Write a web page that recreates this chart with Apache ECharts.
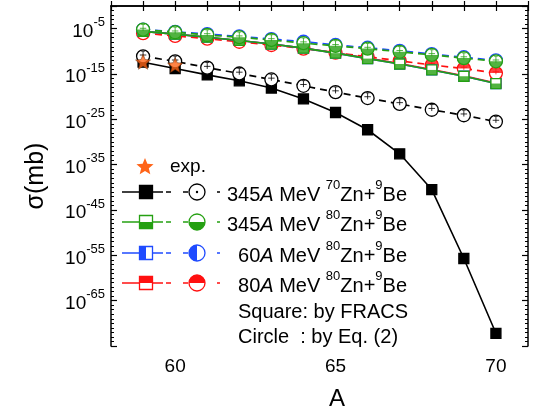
<!DOCTYPE html>
<html>
<head>
<meta charset="utf-8">
<script src="https://cdn.jsdelivr.net/npm/echarts@6/dist/echarts.min.js"></script>
<style>html,body{margin:0;padding:0;background:#fff}#c{width:539px;height:416px}</style>
</head>
<body>
<div id="c"></div>
<script>
// ---- data (sigma in mb) ----
const massNumbers = [59, 60, 61, 62, 63, 64, 65, 66, 67, 68, 69, 70];
const expMass = [59, 60];
const expSigma = [5.0e-13, 1.0e-13];
// 345A MeV 70Zn+9Be
const fracs70Zn345 = [4.0e-13, 1.6e-14, 6.3e-16, 3.2e-17, 7.9e-19, 3.2e-21, 3.2e-24, 5.0e-28, 2.5e-33, 3.2e-41, 2.0e-56, 6.3e-73];
const eq70Zn345 = [7.9e-12, 6.3e-13, 2.5e-14, 1.3e-15, 6.3e-17, 2.5e-18, 1.0e-19, 5.0e-21, 2.5e-22, 1.3e-23, 7.9e-25, 3.2e-26];
// 345A MeV 80Zn+9Be
const fracs80Zn345 = [2.5e-6, 6.3e-7, 1.3e-7, 2.5e-8, 4.0e-9, 5.0e-10, 4.0e-11, 2.5e-12, 1.6e-13, 7.9e-15, 3.2e-16, 7.9e-18];
const eq80Zn345 = [6.3e-6, 1.6e-6, 4.0e-7, 1.3e-7, 3.2e-8, 6.3e-9, 1.6e-9, 4.0e-10, 7.9e-11, 1.6e-11, 3.2e-12, 6.3e-13];
// 60A MeV 80Zn+9Be
const fracs80Zn60 = [2.5e-6, 6.3e-7, 1.3e-7, 2.5e-8, 4.0e-9, 5.0e-10, 4.0e-11, 2.5e-12, 1.6e-13, 7.9e-15, 3.2e-16, 7.9e-18];
const eq80Zn60 = [6.3e-6, 2.0e-6, 6.3e-7, 2.0e-7, 5.0e-8, 1.3e-8, 2.5e-9, 6.3e-10, 1.3e-10, 2.5e-11, 5.0e-12, 1.0e-12];
// 80A MeV 80Zn+9Be
const fracs80Zn80 = [2.5e-6, 6.3e-7, 1.3e-7, 2.5e-8, 4.0e-9, 5.0e-10, 5.0e-11, 3.2e-12, 2.0e-13, 1.0e-14, 4.0e-16, 1.0e-17];
const eq80Zn80 = [1.0e-6, 2.5e-7, 6.3e-8, 1.3e-8, 2.5e-9, 4.0e-10, 5.0e-11, 6.3e-12, 7.9e-13, 1.0e-13, 1.6e-14, 1.6e-15];
// tick labels
const yTickExponents = [-5, -15, -25, -35, -45, -55, -65];
const xTickLabels = [60, 65, 70];

// ---- styling ----
const FONT = '"Liberation Sans", Arial, Helvetica, sans-serif';
const COL = { black: '#000000', green: '#25a012', blue: '#1f4bff', red: '#ff1010', star: '#ff6418' };
const SQ = 10, CI = 13;

function pts(xs, arr) { return xs.map((a, i) => [a, Math.log10(arr[i])]); }

const halfSq = {
  bottom: { size: [SQ, SQ / 2], offset: [0, SQ / 4] },
  top: { size: [SQ, SQ / 2], offset: [0, -SQ / 4] },
  left: { size: [SQ / 2, SQ], offset: [-SQ / 4, 0] }
};
const halfCi = {
  bottom: 'path://M0,0 M20,20 M0,10 A10,10 0 0 0 20,10 Z',
  top: 'path://M0,0 M20,20 M0,10 A10,10 0 0 1 20,10 Z',
  left: 'path://M0,0 M20,20 M10,0 A10,10 0 0 0 10,20 Z'
};
const errPath = 'path://M0,0 M20,20 M10,2 L10,12 M5,8 L15,8 M7,2 L13,2';
const starPath = 'path://M10,0 L12.65,6.36 L19.51,6.91 L14.28,11.39 L15.88,18.09 L10,14.5 L4.12,18.09 L5.72,11.39 L0.49,6.91 L7.35,6.36 Z';

let zc = 2;
function group(sq, eq, color, half) {
  const out = [];
  const filled = !half;
  out.push({
    type: 'line', data: pts(massNumbers, sq), z: zc++, symbol: 'rect', symbolSize: SQ, showSymbol: true,
    lineStyle: { color: color, width: 1.6, type: 'solid' },
    itemStyle: { color: filled ? color : '#ffffff', borderColor: color, borderWidth: 1.3 }
  });
  if (half) {
    out.push({
      type: 'scatter', data: pts(massNumbers, sq), z: zc++, symbol: 'rect',
      symbolSize: halfSq[half].size, symbolOffset: halfSq[half].offset,
      itemStyle: { color: color }
    });
  }
  out.push({
    type: 'line', data: pts(massNumbers, eq), z: zc++, symbol: 'circle', symbolSize: CI, showSymbol: true,
    lineStyle: { color: color, width: 1.7, type: [7, 5] },
    itemStyle: { color: '#ffffff', borderColor: color, borderWidth: 1.3 }
  });
  if (half) {
    out.push({
      type: 'scatter', data: pts(massNumbers, eq), z: zc++, symbol: halfCi[half], symbolSize: CI,
      itemStyle: { color: color }
    });
  }
  out.push({
    type: 'scatter', data: pts(massNumbers, eq), z: zc++, symbol: errPath, symbolSize: CI,
    itemStyle: { color: 'rgba(0,0,0,0)', borderColor: half ? color : '#000', borderWidth: 1 }
  });
  return out;
}

const series = [].concat(
  group(fracs80Zn80, eq80Zn80, COL.red, 'top'),
  group(fracs80Zn60, eq80Zn60, COL.blue, 'left'),
  group(fracs80Zn345, eq80Zn345, COL.green, 'bottom'),
  group(fracs70Zn345, eq70Zn345, COL.black, null),
  [{
    type: 'scatter', data: pts(expMass, expSigma), z: zc++, symbol: starPath, symbolSize: 15,
    itemStyle: { color: COL.star, borderColor: '#552200', borderWidth: 0.6 }
  }]
);

// ---- legend (graphic) ----
function starPoints(cx, cy, R, r) {
  const p = [];
  for (let k = 0; k < 10; k++) {
    const ang = -Math.PI / 2 + k * Math.PI / 5;
    const rad = k % 2 === 0 ? R : r;
    p.push([cx + rad * Math.cos(ang), cy + rad * Math.sin(ang)]);
  }
  return p;
}
const legendRich = {
  n: { fontSize: 20, fontFamily: FONT, color: '#000', lineHeight: 27, verticalAlign: 'bottom' },
  i: { fontSize: 20, fontFamily: FONT, color: '#000', fontStyle: 'italic', lineHeight: 27, verticalAlign: 'bottom' },
  s: { fontSize: 13, fontFamily: FONT, color: '#000', verticalAlign: 'top' }
};
const legendRows = [
  { y: 192, color: COL.black, half: null, energy: '345', proj: '70' },
  { y: 222, color: COL.green, half: 'bottom', energy: '345', proj: '80' },
  { y: 253, color: COL.blue, half: 'left', energy: '60', proj: '80' },
  { y: 283, color: COL.red, half: 'top', energy: '80', proj: '80' }
];
const graphics = [];
graphics.push({ type: 'polygon', shape: { points: starPoints(145, 167, 9, 4) }, style: { fill: COL.star } });
graphics.push({ type: 'text', style: { text: 'exp.', x: 170, y: 167, verticalAlign: 'middle', align: 'left', font: '19px ' + FONT, fill: '#000' } });
const sqL = 13, rL = 8, sqX = 146, ciX = 197;
legendRows.forEach(r => {
  const y = r.y, c = r.color;
  graphics.push({ type: 'line', shape: { x1: 122, y1: y, x2: 163, y2: y }, style: { stroke: c, lineWidth: 1.6 } });
  graphics.push({ type: 'line', shape: { x1: 166, y1: y, x2: 220, y2: y }, style: { stroke: c, lineWidth: 1.6, lineDash: [5, 12] } });
  graphics.push({ type: 'rect', shape: { x: sqX - sqL / 2, y: y - sqL / 2, width: sqL, height: sqL }, style: { fill: r.half ? '#fff' : c, stroke: c, lineWidth: 1.3 } });
  if (r.half === 'bottom') graphics.push({ type: 'rect', shape: { x: sqX - sqL / 2, y: y, width: sqL, height: sqL / 2 }, style: { fill: c } });
  if (r.half === 'top') graphics.push({ type: 'rect', shape: { x: sqX - sqL / 2, y: y - sqL / 2, width: sqL, height: sqL / 2 }, style: { fill: c } });
  if (r.half === 'left') graphics.push({ type: 'rect', shape: { x: sqX - sqL / 2, y: y - sqL / 2, width: sqL / 2, height: sqL }, style: { fill: c } });
  graphics.push({ type: 'circle', shape: { cx: ciX, cy: y, r: rL }, style: { fill: '#fff', stroke: c, lineWidth: 1.3 } });
  if (r.half === 'bottom') graphics.push({ type: 'sector', shape: { cx: ciX, cy: y, r: rL, r0: 0, startAngle: 0, endAngle: Math.PI, clockwise: true }, style: { fill: c } });
  if (r.half === 'top') graphics.push({ type: 'sector', shape: { cx: ciX, cy: y, r: rL, r0: 0, startAngle: Math.PI, endAngle: 2 * Math.PI, clockwise: true }, style: { fill: c } });
  if (r.half === 'left') graphics.push({ type: 'sector', shape: { cx: ciX, cy: y, r: rL, r0: 0, startAngle: Math.PI / 2, endAngle: 3 * Math.PI / 2, clockwise: true }, style: { fill: c } });
  if (!r.half) graphics.push({ type: 'circle', shape: { cx: ciX, cy: y, r: 1.2 }, style: { fill: c } });
  graphics.push({
    type: 'text',
    style: {
      text: '{n|' + r.energy + '}{i|A}{n| MeV }{s|' + r.proj + '}{n|Zn+}{s|9}{n|Be}',
      x: 407, y: y, align: 'right', verticalAlign: 'middle', rich: legendRich, font: '20px ' + FONT, fill: '#000'
    }
  });
});
graphics.push({ type: 'text', style: { text: 'Square: by FRACS', x: 238, y: 312, verticalAlign: 'middle', align: 'left', font: '20px ' + FONT, fill: '#000' } });
graphics.push({ type: 'text', style: { text: 'Circle  : by Eq. (2)', x: 238, y: 337, verticalAlign: 'middle', align: 'left', font: '20px ' + FONT, fill: '#000' } });

// ---- axes ----
const axisLineStyle = { color: '#000', width: 1.5 };
function fmtY(v) {
  const e = Math.round(v);
  if (Math.abs(v - e) < 1e-6 && yTickExponents.indexOf(e) >= 0) return '{b|10}{s|' + e + '}';
  return '';
}
const yCommon = {
  type: 'value', min: -75, max: 0, interval: 10,
  axisLine: { show: true, lineStyle: axisLineStyle },
  axisTick: { show: true, inside: true, length: 6, lineStyle: { color: '#000', width: 1.2 } },
  minorTick: { show: true, splitNumber: 10, length: 3, lineStyle: { color: '#000', width: 1 } },
  splitLine: { show: false }, minorSplitLine: { show: false }
};
const xCommon = {
  type: 'value', min: 58, max: 71, interval: 1,
  axisLine: { show: true, lineStyle: axisLineStyle },
  axisTick: { show: true, inside: true, length: 5, lineStyle: { color: '#000', width: 1.2 } },
  splitLine: { show: false }
};

const option = {
  backgroundColor: '#ffffff',
  animation: false,
  grid: { left: 111, right: 11, top: 6, bottom: 60, containLabel: false },
  xAxis: [
    Object.assign({}, xCommon, {
      position: 'bottom',
      axisLabel: { formatter: v => (xTickLabels.indexOf(v) >= 0 ? String(v) : ''), fontSize: 19, fontFamily: FONT, color: '#000', margin: 11 },
      name: 'A', nameLocation: 'middle', nameGap: 41,
      nameTextStyle: { fontSize: 24, fontFamily: FONT, color: '#000', padding: [0, 0, 0, 35] }
    }),
    Object.assign({}, xCommon, { position: 'top', axisLabel: { show: false } })
  ],
  yAxis: [
    Object.assign({}, yCommon, {
      position: 'left',
      axisLabel: {
        formatter: fmtY, margin: 6, color: '#000',
        rich: {
          b: { fontSize: 19, fontFamily: FONT, color: '#000', lineHeight: 25, verticalAlign: 'bottom' },
          s: { fontSize: 13, fontFamily: FONT, color: '#000', verticalAlign: 'top' }
        }
      },
      name: 'σ(mb)', nameLocation: 'middle', nameGap: 62,
      nameTextStyle: { fontSize: 25, fontFamily: FONT, color: '#000' }
    }),
    Object.assign({}, yCommon, { position: 'right', axisLabel: { show: false } })
  ],
  graphic: graphics,
  series: series
};

const chart = echarts.init(document.getElementById('c'), null, { renderer: 'canvas' });
chart.setOption(option);
</script>
</body>
</html>
